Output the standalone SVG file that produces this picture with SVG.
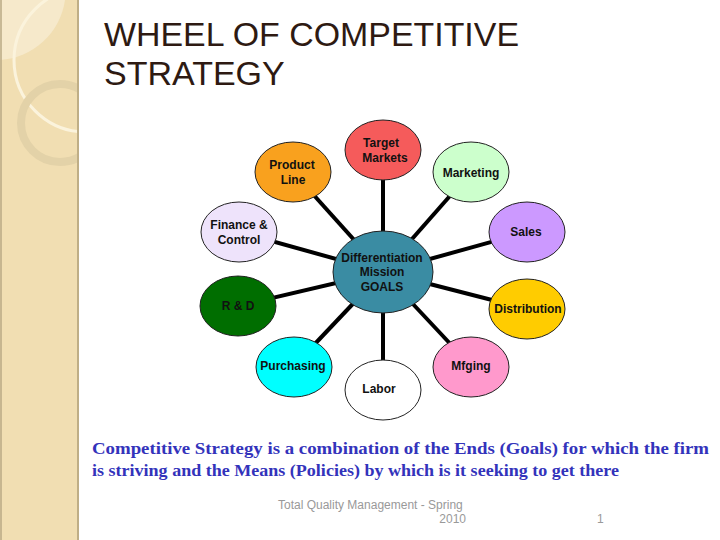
<svg xmlns="http://www.w3.org/2000/svg" width="720" height="540" viewBox="0 0 720 540">
<defs>
<style>
.node{stroke:#222;stroke-width:1}
.lbl{font-family:"Liberation Sans",Arial,sans-serif;font-weight:bold;font-size:12px;fill:#111;text-anchor:middle}
.conn{stroke:#000;stroke-width:4;stroke-linecap:butt}
.title{font-family:"Liberation Sans",Arial,sans-serif;font-size:34px;fill:#2e1a12}
.body{font-family:"Liberation Serif","Times New Roman",serif;font-weight:bold;font-size:17px;fill:#3333bb}
.foot{font-family:"Liberation Sans",Arial,sans-serif;font-size:12px;fill:#999}
</style>
<clipPath id="strip"><rect x="0" y="0" width="78" height="540"/></clipPath>
</defs>
<rect width="720" height="540" fill="#fff"/>
<g id="sidebar">
<rect x="0" y="0" width="78" height="540" fill="#f1deb2"/>
<g clip-path="url(#strip)">
<path d="M0,0 H65 A70,70 0 0 1 0,60 Z" fill="#f6e9cb"/>
<circle cx="86" cy="60" r="72" fill="none" stroke="#fbf3dc" stroke-width="3"/>
<circle cx="60" cy="123" r="39" fill="none" stroke="#e3d2a8" stroke-width="8"/>
</g>
<line x1="78" y1="0" x2="78" y2="540" stroke="#bfae86" stroke-width="2"/>
<line x1="1" y1="0" x2="1" y2="540" stroke="#b9a985" stroke-width="1.5"/>
</g>
<g id="title">
<text class="title" x="104" y="46" textLength="415" lengthAdjust="spacingAndGlyphs">WHEEL OF COMPETITIVE</text>
<text class="title" x="104" y="85">STRATEGY</text>
</g>
<g id="connectors">
<line class="conn" x1="383" y1="272" x2="383" y2="150"/>
<line class="conn" x1="383" y1="272" x2="293" y2="172"/>
<line class="conn" x1="383" y1="272" x2="471" y2="172"/>
<line class="conn" x1="383" y1="272" x2="239" y2="232"/>
<line class="conn" x1="383" y1="272" x2="527" y2="232"/>
<line class="conn" x1="383" y1="272" x2="238" y2="306"/>
<line class="conn" x1="383" y1="272" x2="527" y2="309"/>
<line class="conn" x1="383" y1="272" x2="294" y2="366"/>
<line class="conn" x1="383" y1="272" x2="383" y2="390"/>
<line class="conn" x1="383" y1="272" x2="471" y2="366"/>
</g>
<g id="target-markets"><ellipse class="node" cx="383" cy="150" rx="38" ry="30" fill="#f55b5b"/><text class="lbl" x="381" y="147">Target</text><text class="lbl" x="385" y="162">Markets</text></g>
<g id="product-line"><ellipse class="node" cx="293" cy="172" rx="38" ry="30" fill="#f9a11e"/><text class="lbl" x="292" y="169">Product</text><text class="lbl" x="293" y="184">Line</text></g>
<g id="marketing"><ellipse class="node" cx="471" cy="172" rx="38" ry="30" fill="#ccffcc"/><text class="lbl" x="471" y="177">Marketing</text></g>
<g id="finance"><ellipse class="node" cx="239" cy="232" rx="38" ry="30" fill="#eee3fb"/><text class="lbl" x="239" y="229">Finance &amp;</text><text class="lbl" x="239" y="244">Control</text></g>
<g id="sales"><ellipse class="node" cx="527" cy="232" rx="38" ry="30" fill="#cc99ff"/><text class="lbl" x="526" y="236">Sales</text></g>
<g id="goals"><ellipse class="node" cx="383" cy="272" rx="50" ry="41" fill="#3a8ca3"/><text class="lbl" x="382" y="262">Differentiation</text><text class="lbl" x="382" y="276">Mission</text><text class="lbl" x="382" y="291">GOALS</text></g>
<g id="rd"><ellipse class="node" cx="238" cy="306" rx="38" ry="30" fill="#006e00"/><text class="lbl" x="238" y="310">R &amp; D</text></g>
<g id="distribution"><ellipse class="node" cx="527" cy="309" rx="38" ry="30" fill="#ffcc00"/><text class="lbl" x="528" y="313">Distribution</text></g>
<g id="purchasing"><ellipse class="node" cx="294" cy="367" rx="38" ry="30" fill="#00ffff"/><text class="lbl" x="293" y="370">Purchasing</text></g>
<g id="labor"><ellipse class="node" cx="383" cy="390" rx="38" ry="30" fill="#ffffff"/><text class="lbl" x="379" y="393">Labor</text></g>
<g id="mfging"><ellipse class="node" cx="471" cy="367" rx="38" ry="30" fill="#ff99cc"/><text class="lbl" x="471" y="370">Mfging</text></g>
<g id="caption">
<text class="body" x="92" y="454" textLength="617" lengthAdjust="spacingAndGlyphs">Competitive Strategy is a combination of the Ends (Goals) for which the firm</text>
<text class="body" x="92" y="476" textLength="527" lengthAdjust="spacingAndGlyphs">is striving and the Means (Policies) by which is it seeking to get there</text>
</g>
<g id="footer">
<text class="foot" x="278" y="509">Total Quality Management - Spring</text>
<text class="foot" x="466" y="523" text-anchor="end">2010</text>
<text class="foot" x="597" y="523">1</text>
</g>
</svg>
